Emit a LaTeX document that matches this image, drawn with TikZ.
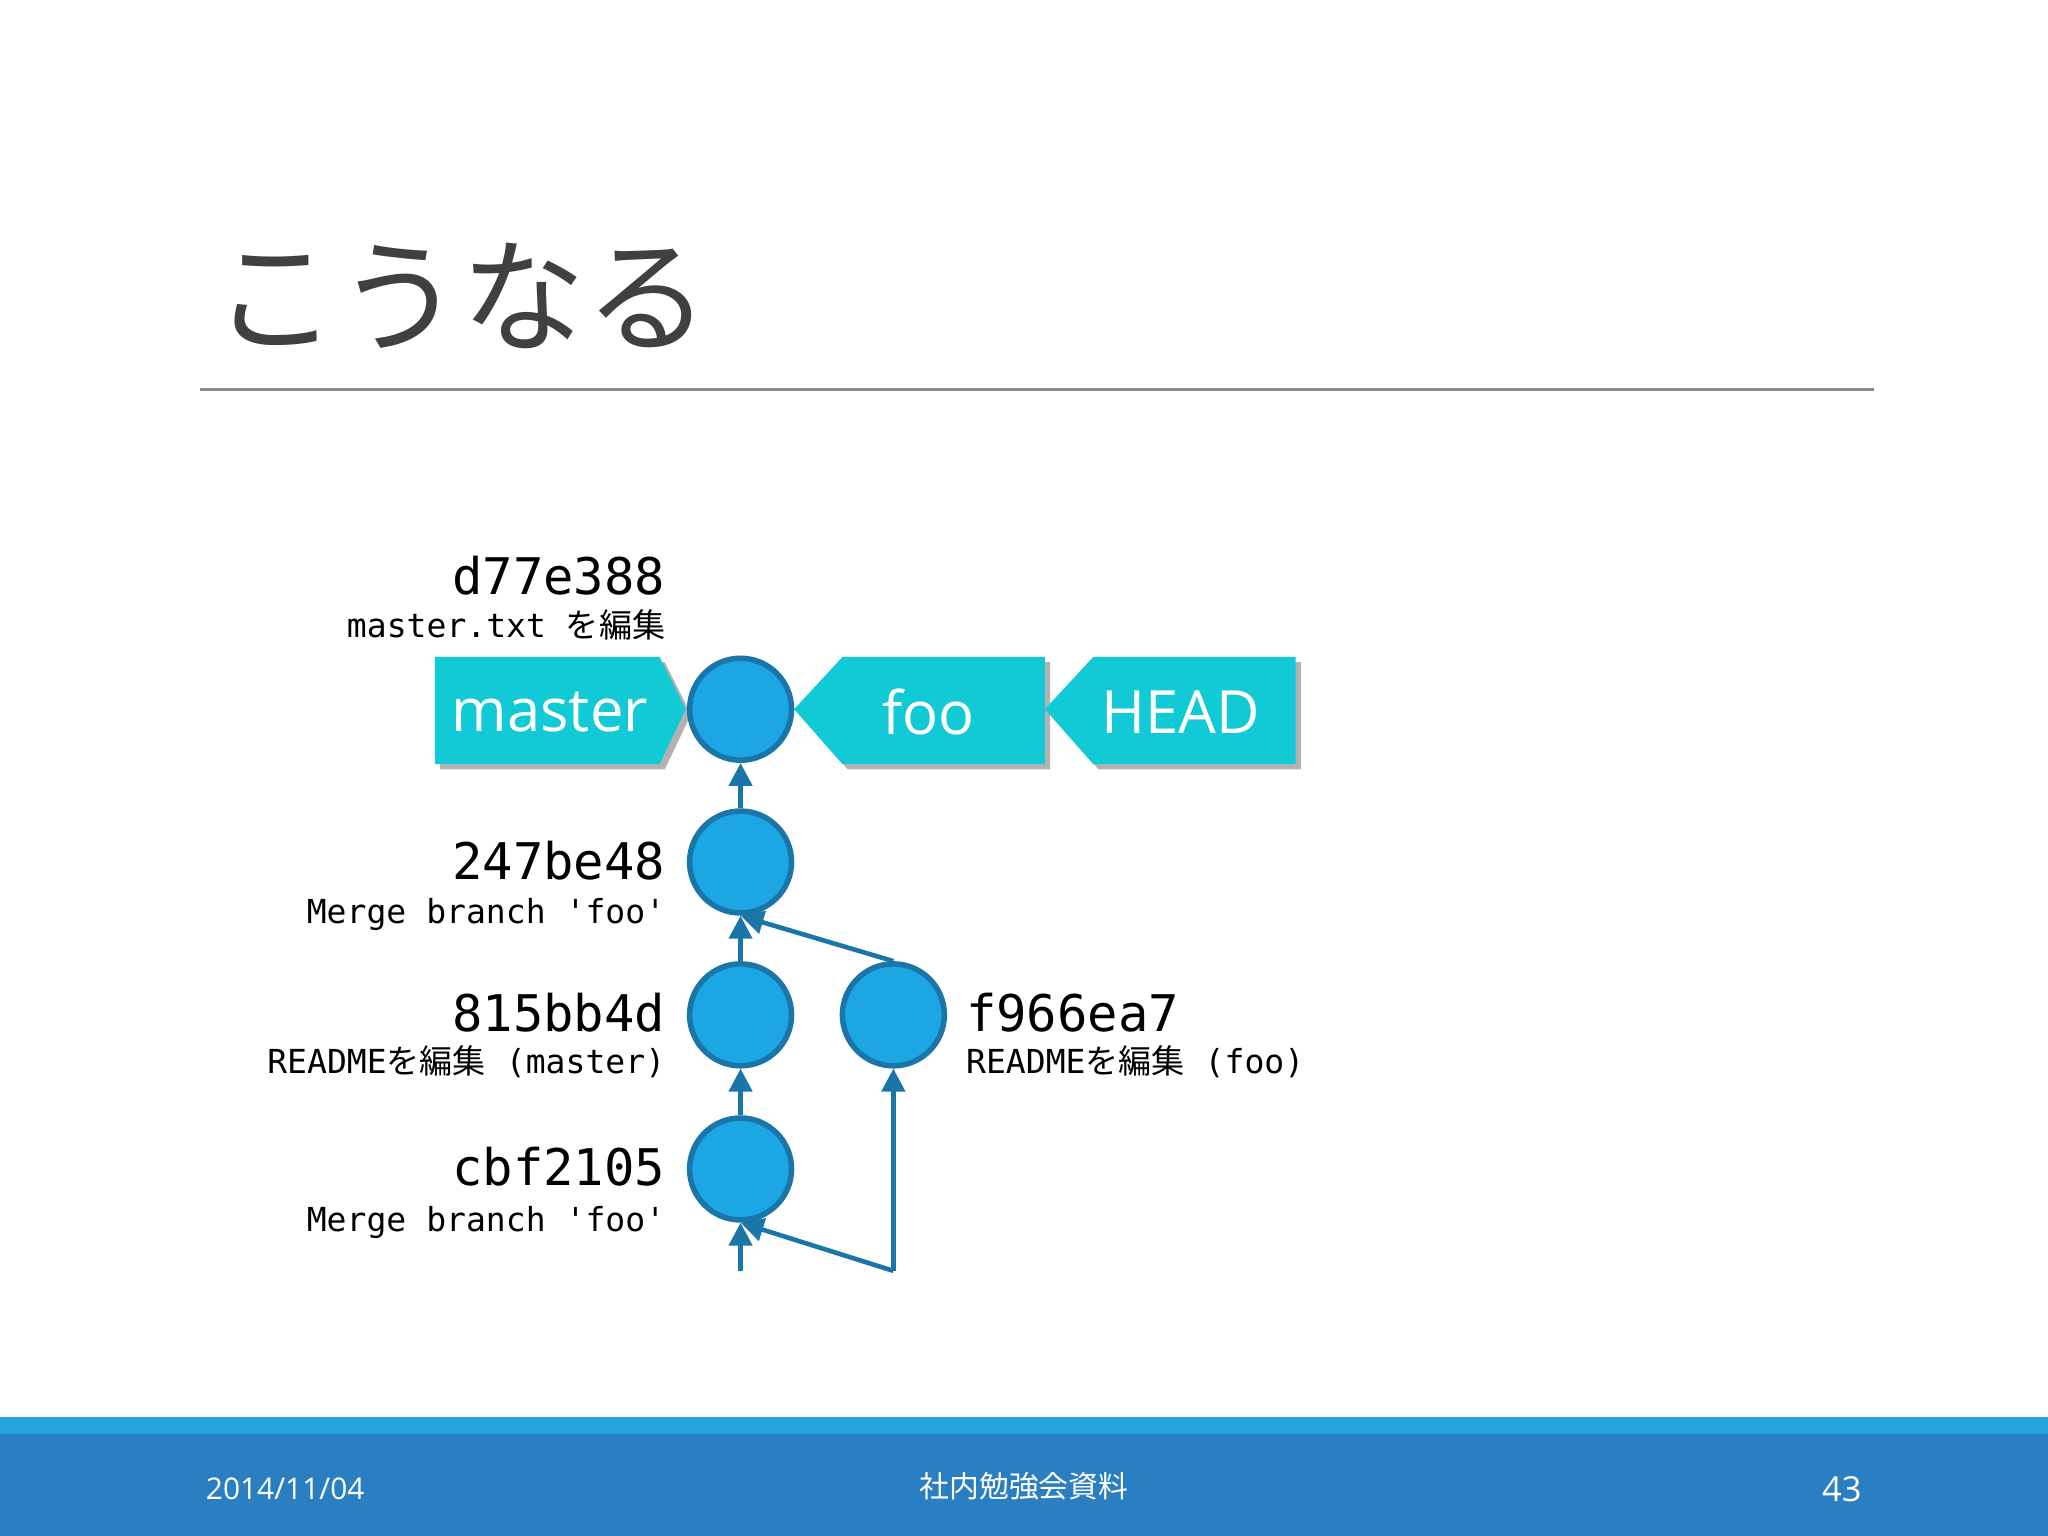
\documentclass[tikz,border=0pt]{standalone}
\usepackage{fontspec}
\setmainfont{Open Sans}
\newfontfamily\jp{Noto Sans CJK JP}
\newfontfamily\mono{DejaVu Sans Mono}
\usetikzlibrary{arrows.meta}
\definecolor{cy}{HTML}{12CAD6}
\definecolor{cfill}{HTML}{1CA6E3}
\definecolor{cline}{HTML}{1A76A8}
\definecolor{foot}{HTML}{2A7FC2}
\definecolor{footl}{HTML}{27A2DC}
\tikzset{
 commit/.style={circle,fill=cfill,draw=cline,line width=1.2pt,minimum size=0.78cm,inner sep=0},
 edge/.style={draw=cline,line width=1pt,-{Triangle[length=5pt,width=5pt]}},
 flag/.style={fill=cy},
 shad/.style={fill=black!30},
 flagtxt/.style={text=white,font=\fontsize{13}{13}\selectfont},
 hash/.style={font=\mono\fontsize{11}{11}\selectfont,anchor=base east,inner sep=0},
 msg/.style={font=\mono\fontsize{7.2}{8}\selectfont,anchor=base east,inner sep=0},
}
\newcommand{\jm}[1]{{\jp #1}}
\begin{document}
\begin{tikzpicture}[x=0.01cm,y=-0.01cm]
\useasboundingbox (0,0) rectangle (1568,1176);
\fill[white] (0,0) rectangle (1568,1176);
% title
\node[anchor=base west,inner sep=0,text=black!75,font=\jp\fontsize{27}{27}\selectfont] (title) at (163,262) {こうなる};
\draw[black!45,line width=0.6pt] (153,298) -- (1435,298);
% flags
\fill[shad] (337,507)--(509,507)--(529,547)--(509,589)--(337,589)--cycle;
\fill[flag] (333,503)--(505,503)--(525,543)--(505,585)--(333,585)--cycle;
\fill[shad] (612,547)--(649,507)--(804,507)--(804,589)--(649,589)--cycle;
\fill[flag] (608,543)--(645,503)--(800,503)--(800,585)--(645,585)--cycle;
\fill[shad] (804,547)--(841,507)--(996,507)--(996,589)--(841,589)--cycle;
\fill[flag] (800,543)--(837,503)--(992,503)--(992,585)--(837,585)--cycle;
\node[flagtxt] (lmaster) at (421,545) {master};
\node[flagtxt] (lfoo) at (711,545) {foo};
\node[flagtxt] (lhead) at (904,545) {HEAD};
% commits
\node[commit] (c1) at (567,543) {};
\node[commit] (c2) at (567,660) {};
\node[commit] (c3) at (567,777) {};
\node[commit] (c4) at (684,777) {};
\node[commit] (c5) at (567,895) {};
\coordinate (e1) at (567,973);
\coordinate (e2) at (684,973);
\draw[edge] (c2.north) -- (c1.south);
\draw[edge] (c3.north) -- (c2.south);
\draw[edge] (c4.north) -- (c2.south);
\draw[edge] (c5.north) -- (c3.south);
\draw[edge] (e1) -- (c5.south);
\draw[edge] (e2) -- (c5.south);
\draw[edge] (e2) -- (c4.south);
% labels
\node[hash] (h1) at (510,455) {d77e388};
\node[msg] (m1) at (510,488) {master.txt \jm{を編集}};
\node[hash] (h2) at (510,673) {247be48};
\node[msg] (m2) at (510,707) {Merge branch 'foo'};
\node[hash] (h3) at (510,790) {815bb4d};
\node[msg] (m3) at (510,822) {README\jm{を編集} (master)};
\node[hash,anchor=base west] (h4) at (739,790) {f966ea7};
\node[msg,anchor=base west] (m4) at (739,822) {README\jm{を編集} (foo)};
\node[hash] (h5) at (510,908) {cbf2105};
\node[msg] (m5) at (510,943) {Merge branch 'foo'};
% footer
\fill[footl] (0,1085) rectangle (1568,1098);
\fill[foot] (0,1098) rectangle (1568,1176);
\node[text=white,font=\fontsize{6.5}{7}\selectfont,anchor=west,inner sep=0] (date) at (157,1140) {2014/11/04};
\node[text=white,font=\jp\fontsize{6.5}{7}\selectfont,inner sep=0] (ft) at (784,1138) {社内勉強会資料};
\node[text=white,font=\fontsize{7.5}{8}\selectfont,anchor=east,inner sep=0] (pg) at (1426,1140) {43};
\end{tikzpicture}
\end{document}
